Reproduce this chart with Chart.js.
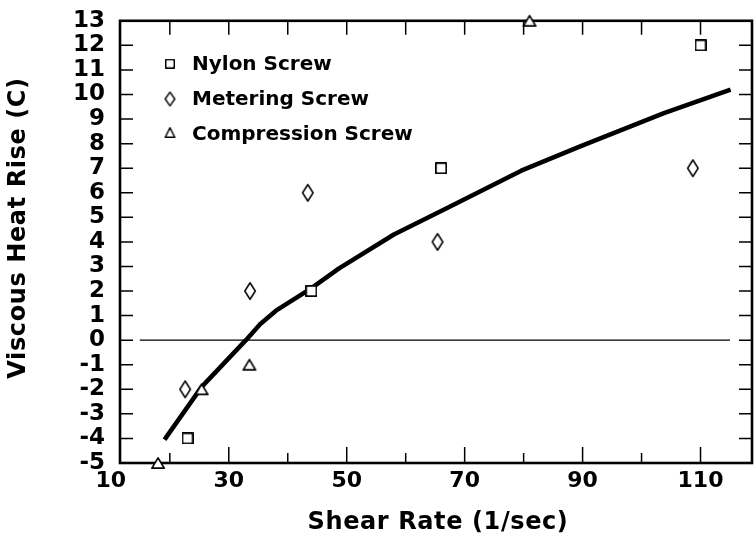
<!DOCTYPE html>
<html>
<head>
<meta charset="utf-8">
<script src="https://cdn.jsdelivr.net/npm/chart.js@4/dist/chart.umd.min.js"></script>
<style>
  html, body { margin: 0; padding: 0; background: #fff; overflow: hidden; }
  #wrap { width: 760px; height: 537px; }
</style>
</head>
<body>
<div id="wrap"><canvas id="chart" width="760" height="537"></canvas></div>
<script>
// ---- data ----
const seriesNames = ['Nylon Screw', 'Metering Screw', 'Compression Screw'];

const nylonX = [23, 44, 66, 110];
const nylonY = [-4, 2, 7, 12];

const meteringX = [22.6, 33.6, 43.4, 65.4, 108.7];
const meteringY = [-2, 2, 6, 4, 7];

const compressionX = [18, 25.4, 33.5, 81];
const compressionY = [-5, -2, -1, 13];

// fitted trend curve
const trendX = [19.1, 25.4, 32.9, 35.3, 38, 43.9, 48.7, 58, 67.2, 79.6, 89.7, 103.8, 115.1];
const trendY = [-4.05, -1.9, 0, 0.65, 1.2, 2.1, 2.92, 4.3, 5.4, 6.9, 7.9, 9.24, 10.2];

// reference line at zero rise
const zeroLineX = [14.9, 115];
const zeroLineY = [0, 0];

const xTickValues = [10, 30, 50, 70, 90, 110];
const xMinorTickValues = [20, 40, 60, 80, 100];
const xAxisTitle = 'Shear Rate (1/sec)';
const yAxisTitle = 'Viscous Heat Rise (C)';

// ---- marker glyphs ----
function makeMarker(shape, w, h, lw) {
  const pad = shape === 'square' ? 0 : 1;
  const c = document.createElement('canvas');
  c.width = w + 2 * pad; c.height = h + 2 * pad;
  const g = c.getContext('2d');
  g.fillStyle = '#fff';
  g.strokeStyle = '#000';
  g.lineWidth = lw;
  g.lineJoin = 'round';
  const p = lw / 2 + pad;
  const W = w + 2 * pad, H = h + 2 * pad;
  g.beginPath();
  if (shape === 'square') {
    g.rect(p, p, W - 2 * p, H - 2 * p);
  } else if (shape === 'diamond') {
    g.moveTo(W / 2, p); g.lineTo(W - p, H / 2); g.lineTo(W / 2, H - p); g.lineTo(p, H / 2); g.closePath();
  } else {
    g.moveTo(W / 2, p); g.lineTo(W - p, H - p); g.lineTo(p, H - p); g.closePath();
  }
  g.fill();
  g.stroke();
  return c;
}

const plotMarkers = [
  makeMarker('square', 12, 12, 1.7),
  makeMarker('diamond', 12, 18, 1.5),
  makeMarker('triangle', 14, 12, 1.7)
];
const keyMarkers = [
  makeMarker('square', 10, 10, 1.5),
  makeMarker('diamond', 11, 15, 1.4),
  makeMarker('triangle', 11, 11, 1.5)
];

const xy = (xs, ys) => xs.map((x, i) => ({ x: x, y: ys[i] }));
const FONT = '"DejaVu Sans", "Liberation Sans", sans-serif';

// ---- frame with inward tick marks ----
const framePlugin = {
  id: 'frame',
  beforeDatasetsDraw(chart) {
    const { ctx, chartArea: a, scales: { x, y } } = chart;
    ctx.save();
    ctx.strokeStyle = '#000';
    ctx.lineCap = 'butt';
    // ticks
    ctx.lineWidth = 1.5;
    ctx.beginPath();
    for (let v = -4; v <= 12; v++) {
      const py = y.getPixelForValue(v);
      ctx.moveTo(a.left, py); ctx.lineTo(a.left + 13, py);
      ctx.moveTo(a.right, py); ctx.lineTo(a.right - 13, py);
    }
    xTickValues.concat(xMinorTickValues).forEach(v => {
      if (v <= x.min || v >= x.max) return;
      const px = x.getPixelForValue(v);
      const major = xTickValues.includes(v);
      ctx.moveTo(px, a.bottom); ctx.lineTo(px, a.bottom - (major ? 16 : 10));
      ctx.moveTo(px, a.top); ctx.lineTo(px, a.top + 14);
    });
    ctx.stroke();
    // border
    ctx.lineWidth = 2.6;
    ctx.strokeRect(a.left, a.top, a.right - a.left, a.bottom - a.top);
    ctx.restore();
  }
};

// ---- key in the upper-left of the plot ----
const keyPlugin = {
  id: 'key',
  afterDatasetsDraw(chart) {
    const { ctx, chartArea: a } = chart;
    const rowsText = [65, 100, 134.5];
    const rowsMark = [63.7, 99, 132.5];
    ctx.save();
    ctx.fillStyle = '#000';
    ctx.font = 'bold 20px ' + FONT;
    ctx.textAlign = 'left';
    ctx.textBaseline = 'middle';
    seriesNames.forEach((name, i) => {
      const m = keyMarkers[i];
      ctx.drawImage(m, a.left + 50 - m.width / 2, rowsMark[i] - m.height / 2);
      ctx.fillText(name, a.left + 72, rowsText[i]);
    });
    ctx.restore();
  }
};

// ---- axis titles ----
const titlePlugin = {
  id: 'axisTitles',
  afterDraw(chart) {
    const { ctx, chartArea: a } = chart;
    ctx.save();
    ctx.fillStyle = '#000';
    ctx.font = 'bold 24px ' + FONT;
    ctx.textAlign = 'center';
    ctx.textBaseline = 'middle';
    if ('letterSpacing' in ctx) ctx.letterSpacing = '0.6px';
    ctx.fillText(xAxisTitle, (a.left + a.right) / 2 + 2, 523);
    ctx.translate(19, 228);
    ctx.rotate(-Math.PI / 2);
    ctx.fillText(yAxisTitle, 0, 0);
    ctx.restore();
  }
};

const pointOpts = { pointRadius: 7, pointHoverRadius: 7, clip: false, showLine: false };

new Chart(document.getElementById('chart'), {
  type: 'scatter',
  data: {
    datasets: [
      Object.assign({ label: seriesNames[0], data: xy(nylonX, nylonY), pointStyle: plotMarkers[0] }, pointOpts),
      Object.assign({ label: seriesNames[1], data: xy(meteringX, meteringY), pointStyle: plotMarkers[1] }, pointOpts),
      Object.assign({ label: seriesNames[2], data: xy(compressionX, compressionY), pointStyle: plotMarkers[2] }, pointOpts),
      {
        type: 'line', label: 'trend', data: xy(trendX, trendY),
        borderColor: '#000', borderWidth: 4.5, pointRadius: 0, fill: false,
        tension: 0, borderCapStyle: 'butt', borderJoinStyle: 'round'
      },
      {
        type: 'line', label: 'zero', data: xy(zeroLineX, zeroLineY),
        borderColor: '#000', borderWidth: 1.4, pointRadius: 0, fill: false, tension: 0
      }
    ]
  },
  options: {
    responsive: false,
    animation: false,
    devicePixelRatio: 1,
    events: [],
    layout: { padding: { left: 0, right: 5, top: 17, bottom: 0 } },
    plugins: { legend: { display: false }, tooltip: { enabled: false } },
    scales: {
      x: {
        type: 'linear',
        position: 'bottom',
        min: 11.55,
        max: 118.73,
        afterBuildTicks: s => { s.ticks = xTickValues.map(v => ({ value: v })); },
        afterFit: s => { s.height = 74; },
        grid: { display: false },
        border: { display: false },
        ticks: { autoSkip: false, maxRotation: 0, minRotation: 0, padding: -3, color: '#000',
                 font: { family: FONT, weight: 'bold', size: 22 } }
      },
      y: {
        type: 'linear',
        min: -5,
        max: 13,
        afterFit: s => { s.width = 120; },
        grid: { display: false },
        border: { display: false },
        ticks: { stepSize: 1, autoSkip: false, padding: 7, color: '#000',
                 font: { family: FONT, weight: 'bold', size: 23 } }
      }
    }
  },
  plugins: [framePlugin, keyPlugin, titlePlugin]
});
</script>
</body>
</html>
